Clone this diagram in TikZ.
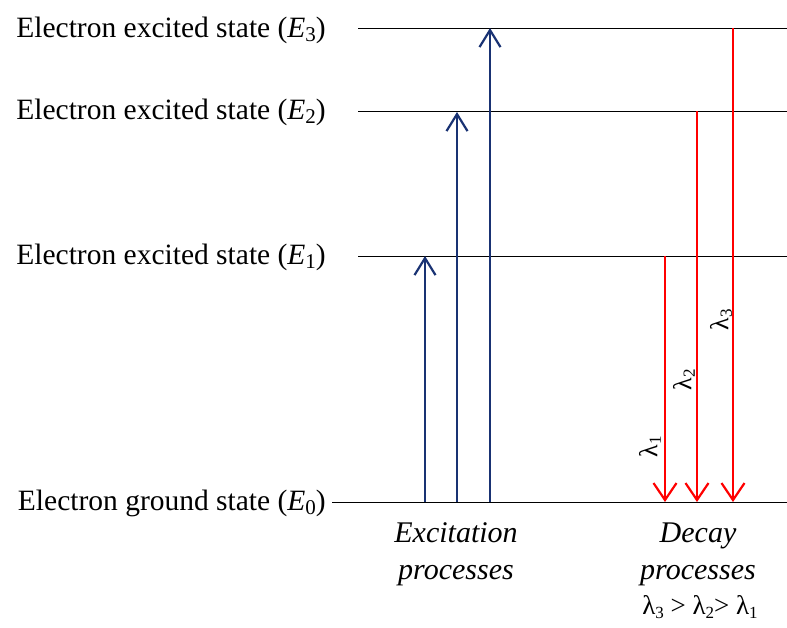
\documentclass[tikz,border=0pt]{standalone}
\usepackage{fontspec}
\setmainfont{Liberation Serif}
\usetikzlibrary{arrows.meta}
\definecolor{navy}{RGB}{25,50,115}
\newcommand{\esub}[1]{\textit{E}\raisebox{-0.3ex}{\fontsize{21}{24}\selectfont #1}}
\newcommand{\lsub}[1]{\raisebox{-0.3ex}{\fontsize{17}{20}\selectfont #1}}
\begin{document}
\begin{tikzpicture}[x=1pt,y=-1pt,
  level/.style={black, line width=1pt},
  lbl/.style={anchor=east, font=\fontsize{29.5}{34}\selectfont, inner sep=0pt},
  exc/.style={navy, line width=2.2pt, -{Straight Barb[length=17pt,width=21pt,line width=2.2pt]}},
  dec/.style={red, line width=2.2pt, -{Straight Barb[length=17pt,width=23pt,line width=2.2pt]}},
  lam/.style={rotate=90, font=\fontsize{26}{28}\selectfont, inner sep=0pt},
  captext/.style={font=\itshape\fontsize{30}{37}\selectfont, inner sep=0pt, align=center}]
\useasboundingbox (0,0) rectangle (787,627);
% level lines
\coordinate (l3a) at (358,28);  \coordinate (l3b) at (787,28);
\coordinate (l2a) at (358,111); \coordinate (l2b) at (787,111);
\coordinate (l1a) at (358,256); \coordinate (l1b) at (787,256);
\coordinate (l0a) at (332,502); \coordinate (l0b) at (787,502);
\draw[level] (l3a) -- (l3b);
\draw[level] (l2a) -- (l2b);
\draw[level] (l1a) -- (l1b);
\draw[level] (l0a) -- (l0b);
% labels
\node[lbl] (t3) at (326,30) {Electron excited state (\esub{3})};
\node[lbl] (t2) at (326,112) {Electron excited state (\esub{2})};
\node[lbl] (t1) at (326,257) {Electron excited state (\esub{1})};
\node[lbl] (t0) at (326,503) {Electron ground state (\esub{0})};
% excitation arrows
\coordinate (a1s) at (425,502); \coordinate (a1e) at (425,256);
\coordinate (a2s) at (457,502); \coordinate (a2e) at (457,112);
\coordinate (a3s) at (490,502); \coordinate (a3e) at (490,28);
\draw[exc] (a1s) -- (a1e);
\draw[exc] (a2s) -- (a2e);
\draw[exc] (a3s) -- (a3e);
% decay arrows
\coordinate (d1s) at (665,256); \coordinate (d1e) at (665,502);
\coordinate (d2s) at (697,111); \coordinate (d2e) at (697,502);
\coordinate (d3s) at (733,28);  \coordinate (d3e) at (733,502);
\draw[dec] (d1s) -- (d1e);
\draw[dec] (d2s) -- (d2e);
\draw[dec] (d3s) -- (d3e);
% lambda labels
\node[lam] (lam1) at (650,447) {λ\lsub{1}};
\node[lam] (lam2) at (684,380) {λ\lsub{2}};
\node[lam] (lam3) at (721,320) {λ\lsub{3}};
% captions
\node[captext] (exccap) at (456,554) {Excitation\\processes};
\node[captext] (deccap) at (698,554) {Decay\\processes};
\node[font=\fontsize{27}{30}\selectfont, inner sep=0pt] (order) at (700,607) {λ\lsub{3} > λ\lsub{2}> λ\lsub{1}};
\end{tikzpicture}
\end{document}
